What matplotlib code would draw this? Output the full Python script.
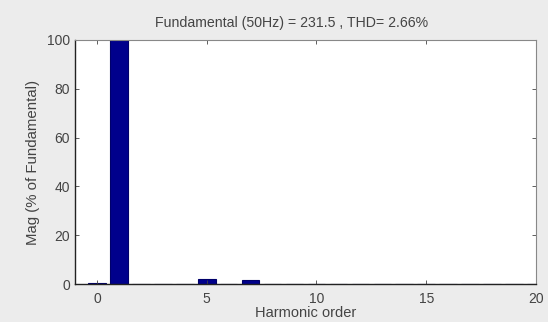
import matplotlib
matplotlib.use("Agg")
import matplotlib.pyplot as plt

# harmonic spectrum, % of fundamental
harmonics = list(range(0, 21))
magnitude = [0.3, 100, 0.1, 0.2, 0.1, 2.2, 0.1, 1.5, 0.1, 0.1, 0.1,
             0.1, 0.1, 0.1, 0.1, 0.1, 0.1, 0.1, 0.1, 0.1, 0.1]
xticks = [0, 5, 10, 15, 20]
yticks = [0, 20, 40, 60, 80, 100]
title = "Fundamental (50Hz) = 231.5 , THD= 2.66%"

plt.rcParams['font.family'] = ['Liberation Sans', 'DejaVu Sans']

fig = plt.figure(figsize=(5.48, 3.22), dpi=100, facecolor="#ececec")
ax = fig.add_axes([0.137, 0.118, 0.841, 0.758])
ax.set_facecolor("white")

ax.bar(harmonics, magnitude, width=0.8, color="#00008c", edgecolor="#00006a", linewidth=0.8)

ax.set_xlim(-1, 20)
ax.set_ylim(0, 100)
ax.set_xticks(xticks)
ax.set_yticks(yticks)
ax.tick_params(direction="in", top=True, right=True, length=3,
               labelsize=10, colors="#444444", width=0.6)
ax.tick_params(axis="x", pad=6)

for side in ["left", "bottom"]:
    ax.spines[side].set_color("#222222")
    ax.spines[side].set_linewidth(1.0)
for side in ["top", "right"]:
    ax.spines[side].set_color("#888888")
    ax.spines[side].set_linewidth(0.8)

ax.set_title(title, fontsize=10.2, color="#444444", pad=9, x=0.47)
ax.set_xlabel("Harmonic order", fontsize=10.5, color="#444444", labelpad=0)
ax.set_ylabel("Mag (% of Fundamental)", fontsize=10.8, color="#444444", labelpad=5)

fig.savefig("out.png", dpi=100, facecolor=fig.get_facecolor())
